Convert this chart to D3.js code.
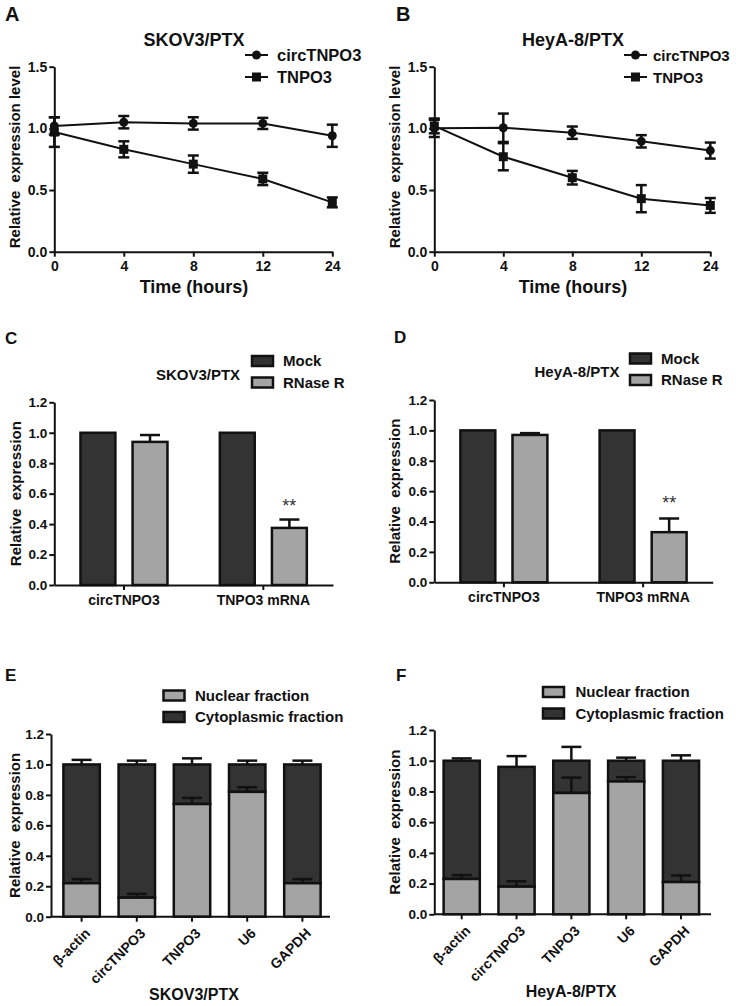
<!DOCTYPE html>
<html><head><meta charset="utf-8">
<script src="https://cdn.jsdelivr.net/npm/d3@7"></script>
<style>
body{margin:0;background:#fff;}
svg{display:block;font-family:"Liberation Sans",Arial,Helvetica,sans-serif;}
</style></head><body>
<svg id="fig" width="736" height="1006"></svg>
<script>
// ---------- DATA ----------
const timePoints = ["0", "4", "8", "12", "24"];
const lineSeriesNames = ["circTNPO3", "TNPO3"];
const skovCirc = [1.02, 1.05, 1.04, 1.04, 0.94];
const skovCircErr = [0.07, 0.05, 0.05, 0.045, 0.09];
const skovTnpo = [0.97, 0.83, 0.71, 0.59, 0.40];
const skovTnpoErr = [0.12, 0.065, 0.07, 0.05, 0.04];
const heyCirc = [1.00, 1.005, 0.965, 0.895, 0.82];
const heyCircErr = [0.07, 0.115, 0.05, 0.05, 0.065];
const heyTnpo = [1.02, 0.77, 0.60, 0.43, 0.375];
const heyTnpoErr = [0.06, 0.11, 0.055, 0.11, 0.06];
const lineYTicks = [0, 0.5, 1.0, 1.5];

const rnaseCategories = ["circTNPO3", "TNPO3 mRNA"];
const rnaseGroups = ["Mock", "RNase R"];
const skovMock = [1, 1];
const skovRnase = [0.94, 0.375];
const skovRnaseErr = [0.045, 0.055];
const heyMock = [1, 1];
const heyRnase = [0.97, 0.33];
const heyRnaseErr = [0.012, 0.09];
const barYTicks = [0, 0.2, 0.4, 0.6, 0.8, 1.0, 1.2];

const fractionGenes = ["β-actin", "circTNPO3", "TNPO3", "U6", "GAPDH"];
const fractionNames = ["Nuclear fraction", "Cytoplasmic fraction"];
const skovNuclear = [0.22, 0.125, 0.74, 0.82, 0.22];
const skovNuclearErr = [0.027, 0.025, 0.04, 0.03, 0.027];
const skovTotal = [1, 1, 1, 1, 1];
const skovTotalErr = [0.03, 0.025, 0.04, 0.025, 0.025];
const heyNuclear = [0.23, 0.18, 0.79, 0.865, 0.21];
const heyNuclearErr = [0.025, 0.035, 0.1, 0.028, 0.043];
const heyTotal = [1.0, 0.96, 1.0, 1.0, 1.0];
const heyTotalErr = [0.015, 0.07, 0.09, 0.02, 0.035];

// ---------- STYLE ----------
const DARK = "#333333", LIGHT = "#a4a4a4", INK = "#111";
const svg = d3.select("#fig");

function letter(t, x, y, size) {
  svg.append("text").attr("x", x).attr("y", y).text(t)
    .attr("font-size", size).attr("font-weight", "bold").attr("fill", INK);
}
function txt(t, x, y, size, anchor, weight) {
  return svg.append("text").attr("x", x).attr("y", y).text(t)
    .attr("font-size", size).attr("font-weight", weight || "bold")
    .attr("text-anchor", anchor || "start").attr("fill", INK);
}
function yTitle(t, x, cy, size) {
  svg.append("text").attr("transform", `translate(${x},${cy}) rotate(-90)`)
    .attr("text-anchor", "middle").attr("font-size", size).attr("font-weight", "bold")
    .attr("fill", INK).attr("xml:space", "preserve").text(t);
}
function styleAxis(g, fs) {
  g.selectAll("path,line").attr("stroke", INK).attr("stroke-width", 2);
  g.selectAll("text").attr("font-size", fs).attr("font-weight", "bold").attr("fill", INK)
    .attr("font-family", "'Liberation Sans',Arial,sans-serif");
}

// ---------- LINE PANELS ----------
function linePanel(c) {
  const x = d3.scalePoint().domain(timePoints).range([c.x0, c.x1]).padding(0);
  const y = d3.scaleLinear().domain([0, 1.5]).range([c.yb, c.yt]);
  const gy = svg.append("g").attr("transform", `translate(${c.x0},0)`)
    .call(d3.axisLeft(y).tickValues(lineYTicks).tickFormat(d3.format(".1f")).tickSize(5).tickSizeOuter(0).tickPadding(2));
  styleAxis(gy, 14);
  const gx = svg.append("g").attr("transform", `translate(0,${c.yb})`)
    .call(d3.axisBottom(x).tickSize(5).tickSizeOuter(0).tickPadding(4));
  styleAxis(gx, 14);

  const series = [
    { v: c.circ, e: c.circErr, shape: "circle" },
    { v: c.tnpo, e: c.tnpoErr, shape: "square" }
  ];
  const line = d3.line().x((d, i) => x(timePoints[i])).y(d => y(d));
  series.forEach(s => {
    svg.append("path").datum(s.v).attr("d", line).attr("fill", "none")
      .attr("stroke", INK).attr("stroke-width", 2);
    const g = svg.append("g");
    s.v.forEach((v, i) => {
      const cx = x(timePoints[i]);
      const t = y(v + s.e[i]), b = y(v - s.e[i]);
      g.append("line").attr("x1", cx).attr("x2", cx).attr("y1", t).attr("y2", b)
        .attr("stroke", INK).attr("stroke-width", 2.5);
      [t, b].forEach(yy => g.append("line").attr("x1", cx - 5.5).attr("x2", cx + 5.5)
        .attr("y1", yy).attr("y2", yy).attr("stroke", INK).attr("stroke-width", 2.5));
      marker(g, s.shape, cx, y(v));
    });
  });
  // legend
  series.forEach((s, i) => {
    const ly = c.ly + i * 22;
    svg.append("line").attr("x1", c.lx).attr("x2", c.lx + 23).attr("y1", ly).attr("y2", ly)
      .attr("stroke", INK).attr("stroke-width", 2);
    marker(svg, s.shape, c.lx + 11.5, ly);
    txt(lineSeriesNames[i], c.ltx, ly + 6, c.lfs);
  });
  txt(c.title, c.tx, 46, 18, "middle");
  txt("Time (hours)", c.tx, 293, 18, "middle");
  yTitle("Relative  expression level", c.ytx, 157, 15);
}
function marker(g, shape, cx, cy) {
  if (shape === "circle") g.append("circle").attr("cx", cx).attr("cy", cy).attr("r", 4.5).attr("fill", INK);
  else g.append("rect").attr("x", cx - 4.5).attr("y", cy - 4.5).attr("width", 9).attr("height", 9).attr("fill", INK);
}

letter("A", 5, 21, 20);
letter("B", 396, 21, 20);
linePanel({ x0: 54.3, x1: 332.3, yb: 251.7, yt: 66.7, circ: skovCirc, circErr: skovCircErr,
  tnpo: skovTnpo, tnpoErr: skovTnpoErr, lx: 245, ly: 55, ltx: 277, lfs: 16.5, title: "SKOV3/PTX", tx: 194, ytx: 19.5 });
linePanel({ x0: 434.3, x1: 710.3, yb: 251.7, yt: 66.7, circ: heyCirc, circErr: heyCircErr,
  tnpo: heyTnpo, tnpoErr: heyTnpoErr, lx: 624, ly: 55, ltx: 653, lfs: 15, title: "HeyA-8/PTX", tx: 573, ytx: 399.5 });

// ---------- RNase R PANELS ----------
function legendBox(x, y, fill, label, tx) {
  svg.append("rect").attr("x", x).attr("y", y).attr("width", 21).attr("height", 10)
    .attr("fill", fill).attr("stroke", INK).attr("stroke-width", 2.5);
  txt(label, tx, y + 10, 15);
}
function rnasePanel(c) {
  const x = d3.scaleBand().domain(rnaseCategories).range([c.x0, c.x1]).padding(0);
  const xi = d3.scaleBand().domain(rnaseGroups).range([-43.5, 43.5]).paddingInner(0.33);
  const y = d3.scaleLinear().domain([0, 1.2]).range([c.yb, c.yt]);
  const vals = [c.mock, c.rnase];
  const fills = [DARK, LIGHT];
  rnaseCategories.forEach((cat, ci) => {
    rnaseGroups.forEach((grp, gi) => {
      const v = vals[gi][ci];
      const bx = x(cat) + x.bandwidth() / 2 + xi(grp);
      const bw = xi.bandwidth();
      if (gi === 1) {
        const cx = bx + bw / 2, t = y(v + c.err[ci]);
        svg.append("line").attr("x1", cx).attr("x2", cx).attr("y1", y(v)).attr("y2", t)
          .attr("stroke", INK).attr("stroke-width", 2.5);
        svg.append("line").attr("x1", cx - 10).attr("x2", cx + 10).attr("y1", t).attr("y2", t)
          .attr("stroke", INK).attr("stroke-width", 2.5);
      }
      svg.append("rect").attr("x", bx).attr("y", y(v)).attr("width", bw).attr("height", y(0) - y(v))
        .attr("fill", fills[gi]).attr("stroke", INK).attr("stroke-width", 2.5);
    });
  });
  const gy = svg.append("g").attr("transform", `translate(${c.x0},0)`)
    .call(d3.axisLeft(y).tickValues(barYTicks).tickFormat(d3.format(".1f")).tickSize(5).tickSizeOuter(0).tickPadding(2));
  styleAxis(gy, 13.5);
  const gx = svg.append("g").attr("transform", `translate(0,${c.yb})`)
    .call(d3.axisBottom(x).tickSize(5).tickSizeOuter(0).tickPadding(5));
  styleAxis(gx, 14);
  // significance
  const sx = x(rnaseCategories[1]) + x.bandwidth() / 2 + xi("RNase R") + xi.bandwidth() / 2;
  svg.append("text").attr("x", sx).attr("y", c.starY).attr("text-anchor", "middle")
    .attr("font-size", 18).attr("fill", "#333").text("**");
  txt(c.title, c.tx, c.ty, 15, "middle");
  legendBox(c.lx, c.ly, DARK, "Mock", c.ltx);
  legendBox(c.lx, c.ly + 21.5, LIGHT, "RNase R", c.ltx);
  yTitle("Relative  expression", c.ytx, (c.yb + c.yt) / 2, 15);
}
letter("C", 5, 344, 17);
letter("D", 394, 343, 17);
rnasePanel({ x0: 54.3, x1: 333, yb: 585, yt: 402.3, mock: skovMock, rnase: skovRnase, err: skovRnaseErr,
  starY: 512, title: "SKOV3/PTX", tx: 198, ty: 380, lx: 252, ly: 356, ltx: 283, ytx: 20.5 });
rnasePanel({ x0: 434.3, x1: 712.7, yb: 582.3, yt: 400, mock: heyMock, rnase: heyRnase, err: heyRnaseErr,
  starY: 509, title: "HeyA-8/PTX", tx: 577, ty: 377, lx: 630, ly: 353.5, ltx: 661, ytx: 399.5 });

// ---------- FRACTION PANELS ----------
function fractionPanel(c) {
  const x = d3.scaleBand().domain(fractionGenes).range([c.b0, c.b1]).paddingInner(0.34).paddingOuter(0.17);
  const y = d3.scaleLinear().domain([0, 1.2]).range([c.yb, c.yt]);
  fractionGenes.forEach((gname, i) => {
    const bx = x(gname), bw = x.bandwidth(), cx = bx + bw / 2;
    const tot = c.total[i], nuc = c.nuc[i];
    const tt = y(tot + c.totErr[i]);
    svg.append("line").attr("x1", cx).attr("x2", cx).attr("y1", y(tot)).attr("y2", tt).attr("stroke", INK).attr("stroke-width", 2.5);
    svg.append("line").attr("x1", cx - 10).attr("x2", cx + 10).attr("y1", tt).attr("y2", tt).attr("stroke", INK).attr("stroke-width", 2.5);
    svg.append("rect").attr("x", bx).attr("y", y(tot)).attr("width", bw).attr("height", y(nuc) - y(tot))
      .attr("fill", DARK).attr("stroke", INK).attr("stroke-width", 2.5);
    const nt = y(nuc + c.nucErr[i]);
    svg.append("line").attr("x1", cx).attr("x2", cx).attr("y1", y(nuc)).attr("y2", nt).attr("stroke", INK).attr("stroke-width", 2.5);
    svg.append("line").attr("x1", cx - 10).attr("x2", cx + 10).attr("y1", nt).attr("y2", nt).attr("stroke", INK).attr("stroke-width", 2.5);
    svg.append("rect").attr("x", bx).attr("y", y(nuc)).attr("width", bw).attr("height", y(0) - y(nuc))
      .attr("fill", LIGHT).attr("stroke", INK).attr("stroke-width", 2.5);
  });
  const gy = svg.append("g").attr("transform", `translate(${c.x0},0)`)
    .call(d3.axisLeft(y).tickValues(barYTicks).tickFormat(d3.format(".1f")).tickSize(5).tickSizeOuter(0).tickPadding(2));
  styleAxis(gy, 13.5);
  svg.append("line").attr("x1", c.x0).attr("x2", c.x1).attr("y1", c.yb).attr("y2", c.yb)
    .attr("stroke", INK).attr("stroke-width", 2);
  const gx = svg.append("g").attr("transform", `translate(0,${c.yb})`)
    .call(d3.axisBottom(x).tickSize(5).tickSizeOuter(0));
  gx.select(".domain").remove();
  styleAxis(gx, 14);
  gx.selectAll("text").attr("x", 0).attr("y", 0).attr("dy", "0.35em")
    .attr("text-anchor", "end").attr("transform", "translate(6,14) rotate(-45)");
  legendBox(c.lx, c.ly, LIGHT, fractionNames[0], c.ltx);
  legendBox(c.lx, c.ly + 21.5, DARK, fractionNames[1], c.ltx);
  txt(c.title, c.tx, c.ty, 16, "middle");
  yTitle("Relative  expression", c.ytx, (c.yb + c.yt) / 2, 15);
}
letter("E", 5, 681, 17);
letter("F", 396, 681, 17);
fractionPanel({ x0: 51, x1: 330, b0: 54, b1: 330, yb: 916.7, yt: 734, nuc: skovNuclear, nucErr: skovNuclearErr,
  total: skovTotal, totErr: skovTotalErr, lx: 163.5, ly: 690.5, ltx: 195, title: "SKOV3/PTX", tx: 194, ty: 1000, ytx: 19.5 });
fractionPanel({ x0: 434.3, x1: 711, b0: 434.3, b1: 708.4, yb: 914.3, yt: 730, nuc: heyNuclear, nucErr: heyNuclearErr,
  total: heyTotal, totErr: heyTotalErr, lx: 543, ly: 687, ltx: 575.5, title: "HeyA-8/PTX", tx: 571, ty: 997, ytx: 399.5 });
</script>
</body></html>
